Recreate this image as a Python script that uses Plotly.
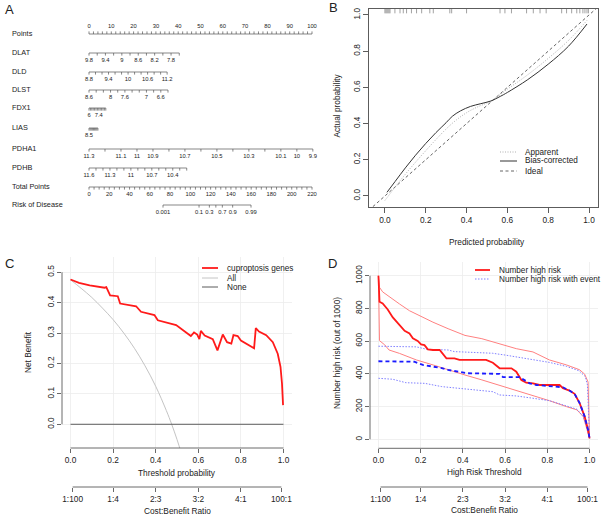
import math
import plotly.graph_objects as go

W, H = 603, 518
FONT = "Liberation Sans, Arial, Helvetica, sans-serif"
INK = "#222222"
AXC = "#444444"


def fx(px):
    return px / W


def fy(py):
    return 1 - py / H


def to_paper(v, dom, rng):
    return dom[0] + (v - rng[0]) / (rng[1] - rng[0]) * (dom[1] - dom[0])


# ======================= DATA =======================
# ---- Panel A : nomogram ----
row_names = ["Points", "DLAT", "DLD", "DLST", "FDX1", "LIAS", "PDHA1", "PDHB",
             "Total Points", "Risk of Disease"]
points_labels = [0, 10, 20, 30, 40, 50, 60, 70, 80, 90, 100]
points_minor = list(range(0, 101, 2))

var_names = ["DLAT", "DLD", "DLST", "FDX1", "LIAS", "PDHA1", "PDHB"]
var_zero_value = [9.8, 8.8, 8.6, 6.0, 8.5, 11.3, 11.6]          # value scoring 0 points
var_points_per_unit = [-18.4, 14.6, -16.1, 3.14, 5.0, -71.7, -31.3]

dlat_ticks = [9.8, 9.6, 9.4, 9.2, 9.0, 8.8, 8.6, 8.4, 8.2, 8.0, 7.8, 7.6]
dlat_labels = [9.8, 9.4, 9, 8.6, 8.2, 7.8]
dld_ticks = [8.8, 9.0, 9.2, 9.4, 9.6, 9.8, 10.0, 10.2, 10.4, 10.6, 10.8, 11.0, 11.2]
dld_labels = [8.8, 9.4, 10, 10.6, 11.2]
dlst_ticks = [8.6, 8.4, 8.2, 8.0, 7.8, 7.6, 7.4, 7.2, 7.0, 6.8, 6.6, 6.4]
dlst_labels = [8.6, 8, 7.6, 7, 6.6]
fdx1_ticks = [6.0, 6.2, 6.4, 6.6, 6.8, 7.0, 7.2, 7.4, 7.6, 7.8, 8.0, 8.2, 8.4]
fdx1_labels = [6, 7.4]
lias_ticks = [8.5, 8.6, 8.7, 8.8, 8.9, 9.0, 9.1, 9.2, 9.3]
lias_labels = [8.5]
pdha1_ticks = [11.3, 11.2, 11.1, 11.0, 10.9, 10.8, 10.7, 10.6, 10.5, 10.4, 10.3,
               10.2, 10.1, 10.0, 9.9]
pdha1_labels = [11.3, 11.1, 11, 10.9, 10.7, 10.5, 10.3, 10.1, 10, 9.9]
pdhb_ticks = [11.6, 11.5, 11.4, 11.3, 11.2, 11.1, 11.0, 10.9, 10.8, 10.7, 10.6,
              10.5, 10.4, 10.3, 10.2]
pdhb_labels = [11.6, 11.3, 11, 10.7, 10.4]
var_ticks = [dlat_ticks, dld_ticks, dlst_ticks, fdx1_ticks, lias_ticks, pdha1_ticks, pdhb_ticks]
var_labels = [dlat_labels, dld_labels, dlst_labels, fdx1_labels, lias_labels, pdha1_labels, pdhb_labels]

total_max = 220
total_labels = [0, 20, 40, 60, 80, 100, 120, 140, 160, 180, 200, 220]
total_minor = list(range(0, 221, 5))

risk_ticks = [0.001, 0.1, 0.3, 0.5, 0.7, 0.9, 0.99]
risk_labels = [0.001, 0.1, 0.3, 0.7, 0.9, 0.99]
risk_intercept_points = 73.0     # total points at risk 0.001
risk_points_per_logit = 7.55

# ---- Panel B : calibration ----
app_x = [0.0, 0.1, 0.2, 0.3, 0.35, 0.4, 0.45, 0.52, 0.6, 0.7, 0.8, 0.9, 0.99]
app_y = [-0.025, 0.12, 0.25, 0.37, 0.42, 0.46, 0.49, 0.525, 0.59, 0.67, 0.76, 0.86, 0.97]
bias_x = [0.01, 0.05, 0.1, 0.15, 0.2, 0.25, 0.3, 0.33, 0.37, 0.42, 0.47, 0.52,
          0.565, 0.6, 0.7, 0.8, 0.9, 0.99]
bias_y = [0.02, 0.08, 0.155, 0.225, 0.29, 0.35, 0.405, 0.44, 0.47, 0.495, 0.51,
          0.525, 0.55, 0.572, 0.643, 0.728, 0.828, 0.95]
ideal_x = [-0.2, 1.2]
ideal_y = [-0.2, 1.2]
rug_pred = [0.0, 0.005, 0.01, 0.015, 0.02, 0.025, 0.049, 0.074, 0.09, 0.106, 0.13,
            0.155, 0.18, 0.22, 0.237, 0.318, 0.327, 0.4, 0.564, 0.588, 0.62, 0.694,
            0.727, 0.76, 0.79, 0.866, 0.89, 0.915, 0.94, 0.955, 0.97, 0.98, 0.99, 0.997]

# ---- Panel C : decision curve ----
model_t = [0.0, 0.04, 0.09, 0.135, 0.16, 0.168, 0.186, 0.222, 0.233, 0.308, 0.331,
           0.394, 0.41, 0.496, 0.565, 0.58, 0.595, 0.605, 0.612, 0.63, 0.668, 0.69,
           0.715, 0.735, 0.755, 0.765, 0.785, 0.80, 0.84, 0.862, 0.87, 0.885, 0.919,
           0.95, 0.973, 0.986, 0.993, 0.998]
model_nb = [0.476, 0.465, 0.457, 0.453, 0.449, 0.451, 0.424, 0.421, 0.397, 0.388,
            0.37, 0.359, 0.342, 0.326, 0.29, 0.302, 0.295, 0.28, 0.307, 0.292, 0.28,
            0.243, 0.295, 0.27, 0.265, 0.293, 0.29, 0.275, 0.26, 0.25, 0.316, 0.305,
            0.293, 0.27, 0.232, 0.189, 0.134, 0.063]
all_t = [0.0, 0.05, 0.1, 0.15, 0.2, 0.25, 0.3, 0.35, 0.4, 0.45, 0.475, 0.5, 0.52]
all_nb = [0.475, 0.447, 0.417, 0.382, 0.344, 0.30, 0.25, 0.192, 0.125, 0.045, 0.0,
          -0.05, -0.094]
none_t = [0.0, 1.0]
none_nb = [0.0, 0.0]

# ---- Panel D : clinical impact curve ----
hr_t = [0.0, 0.005, 0.02, 0.044, 0.068, 0.1, 0.124, 0.147, 0.163, 0.186, 0.202,
        0.218, 0.234, 0.258, 0.29, 0.322, 0.36, 0.384, 0.51, 0.542, 0.574, 0.63,
        0.653, 0.677, 0.7, 0.732, 0.763, 0.858, 0.874, 0.905, 0.929, 0.953, 0.977,
        0.993, 1.0]
hr_n = [1000, 841, 831, 794, 745, 694, 663, 647, 617, 601, 580, 576, 550, 546, 546,
        495, 495, 485, 485, 468, 434, 434, 413, 362, 346, 342, 332, 332, 312, 298,
        278, 221, 139, 57, 6]
hr_up_t = [0.0, 0.005, 0.02, 0.05, 0.1, 0.147, 0.19, 0.258, 0.33, 0.41, 0.49, 0.574,
           0.653, 0.732, 0.81, 0.89, 0.953, 0.977, 0.993, 1.0]
hr_up_n = [1000, 929, 901, 872, 827, 786, 757, 716, 676, 635, 615, 584, 554, 534,
           485, 455, 425, 398, 350, 10]
hr_lo_t = [0.0, 0.005, 0.03, 0.05, 0.1, 0.18, 0.26, 0.33, 0.41, 0.49, 0.57, 0.65,
           0.73, 0.81, 0.89, 0.94, 0.97, 0.99, 1.0]
hr_lo_n = [1000, 603, 577, 546, 525, 485, 454, 424, 393, 363, 332, 302, 271, 236,
           200, 180, 139, 57, 6]
ev_t = [0.0, 0.1, 0.17, 0.21, 0.26, 0.3, 0.33, 0.384, 0.42, 0.574, 0.59, 0.669,
        0.716, 0.748, 0.827, 0.874, 0.905, 0.929, 0.953, 0.977, 0.993, 1.0]
ev_n = [477, 477, 474, 455, 445, 435, 424, 414, 404, 400, 380, 380, 342, 332, 322,
        318, 298, 278, 221, 139, 57, 6]
ev_up_t = [0.0, 0.18, 0.23, 0.33, 0.36, 0.49, 0.54, 0.6, 0.65, 0.73, 0.81, 0.89,
           0.95, 0.98, 0.99, 1.0]
ev_up_n = [569, 565, 550, 546, 536, 530, 526, 515, 505, 485, 470, 446, 419, 383, 332, 6]
ev_lo_t = [0.0, 0.068, 0.13, 0.22, 0.3, 0.384, 0.447, 0.542, 0.574, 0.653, 0.732,
           0.81, 0.89, 0.94, 0.97, 0.99, 1.0]
ev_lo_n = [373, 367, 346, 342, 322, 312, 306, 291, 271, 265, 251, 236, 204, 184, 139, 61, 6]

# cost:benefit axis
cb_labels = ["1:100", "1:4", "2:3", "3:2", "4:1", "100:1"]
cb_thresholds = [1 / 101, 0.2, 0.4, 0.6, 0.8, 100 / 101]

# ======================= FIGURE =======================
fig = go.Figure()
shapes = []
annots = []


def ann(x, y, text, size, xanchor="center", yanchor="middle", angle=0, color=INK):
    annots.append(dict(x=fx(x), y=fy(y), xref="paper", yref="paper", text=text,
                       showarrow=False, xanchor=xanchor, yanchor=yanchor,
                       textangle=angle, font=dict(family=FONT, size=size, color=color)))


# ---------------- Panel A ----------------
A_PX0 = 89.0
A_PXPP = 2.23
A_dom = [0.0, fx(322)]
A_rng = [(0 - A_PX0) / A_PXPP, (322 - A_PX0) / A_PXPP]
row_y = [34, 53, 72, 90, 108, 128, 149, 168, 187, 205]
TL = 2.6

lx, ly = [], []
tx, ty, tt = [], [], []


def seg(x0, y0, x1, y1):
    lx.extend([x0, x1, None])
    ly.extend([y0, y1, None])


def fmt(v):
    return "{:g}".format(v)


# Points
y0 = row_y[0]
seg(points_minor[0], y0, points_minor[-1], y0)
for p in points_minor:
    seg(p, y0, p, y0 - TL)
for p in points_labels:
    tx.append(p); ty.append(y0 - 7); tt.append(fmt(p))

# Variables
for i, name in enumerate(var_names):
    yv = row_y[i + 1]
    z, ppu = var_zero_value[i], var_points_per_unit[i]
    pts = [(v - z) * ppu for v in var_ticks[i]]
    seg(min(pts), yv, max(pts), yv)
    for p in pts:
        seg(p, yv, p, yv + TL)
    for v in var_labels[i]:
        tx.append((v - z) * ppu); ty.append(yv + 7.5); tt.append(fmt(v))

# Total points
yt = row_y[8]
seg(0, yt, total_max * 100 / total_max, yt)
for tp in total_minor:
    seg(tp * 100 / total_max, yt, tp * 100 / total_max, yt + TL)
for tp in total_labels:
    tx.append(tp * 100 / total_max); ty.append(yt + 7.5); tt.append(fmt(tp))


def risk_pts(p):
    lg = math.log(p / (1 - p)) - math.log(0.001 / 0.999)
    return (risk_intercept_points + risk_points_per_logit * lg) * 100 / total_max


yr = row_y[9]
seg(risk_pts(risk_ticks[0]), yr, risk_pts(risk_ticks[-1]), yr)
for p in risk_ticks:
    seg(risk_pts(p), yr, risk_pts(p), yr + TL)
for p in risk_labels:
    tx.append(risk_pts(p)); ty.append(yr + 8); tt.append(fmt(p))

fig.add_trace(go.Scatter(x=lx, y=ly, mode="lines", line=dict(color="#555555", width=0.7),
                         xaxis="x", yaxis="y", hoverinfo="skip", showlegend=False))
fig.add_trace(go.Scatter(x=tx, y=ty, text=tt, mode="text", textposition="middle center",
                         textfont=dict(family=FONT, size=5.8, color=INK), cliponaxis=False,
                         xaxis="x", yaxis="y", hoverinfo="skip", showlegend=False))
label_x = (12 - A_PX0) / A_PXPP
fig.add_trace(go.Scatter(x=[label_x] * len(row_names), y=[r + 0.5 for r in row_y],
                         text=row_names, mode="text", textposition="middle right",
                         textfont=dict(family=FONT, size=7.3, color=INK), cliponaxis=False,
                         xaxis="x", yaxis="y", hoverinfo="skip", showlegend=False))

# ---------------- Panel B ----------------
B_xdom, B_xrng = [fx(369), fx(598)], [-0.078, 1.044]
B_ydom, B_yrng = [fy(207), fy(9)], [-0.061, 1.033]
rx, ry = [], []
for v in rug_pred:
    rx.extend([v, v, None])
    ry.extend([B_yrng[1], B_yrng[1] - 0.024, None])
fig.add_trace(go.Scatter(x=rx, y=ry, mode="lines", line=dict(color="#8a8a8a", width=0.8),
                         xaxis="x2", yaxis="y2", hoverinfo="skip", showlegend=False))
fig.add_trace(go.Scatter(x=ideal_x, y=ideal_y, mode="lines",
                         line=dict(color="#555555", width=0.9, dash="3px,2.5px"),
                         xaxis="x2", yaxis="y2", showlegend=False))
fig.add_trace(go.Scatter(x=app_x, y=app_y, mode="lines", line_shape="spline",
                         line=dict(color="#a8a8a8", width=0.9, dash="1px,1.5px"),
                         xaxis="x2", yaxis="y2", showlegend=False))
fig.add_trace(go.Scatter(x=bias_x, y=bias_y, mode="lines", line_shape="spline",
                         line=dict(color="#333333", width=1.0),
                         xaxis="x2", yaxis="y2", showlegend=False))

# legend B
leg_b = [("Apparent", dict(color="#a8a8a8", width=0.9, dash="1px,1.5px"), 152),
         ("Bias-corrected", dict(color="#333333", width=1.0, dash="solid"), 161),
         ("Ideal", dict(color="#555555", width=0.9, dash="3px,2.5px"), 171)]
for text, ln, yy in leg_b:
    shapes.append(dict(type="line", xref="paper", yref="paper", x0=fx(500), x1=fx(517),
                       y0=fy(yy), y1=fy(yy), line=ln))
    ann(523, yy, text, 8.2, xanchor="left")

# ---------------- Panel C ----------------
C_xdom, C_xrng = [fx(62), fx(292)], [-0.04, 1.04]
C_ydom, C_yrng = [fy(448), fy(257)], [-0.078, 0.55]
fig.add_trace(go.Scatter(x=all_t, y=all_nb, mode="lines", line_shape="spline",
                         line=dict(color="#c4c4c4", width=1.0),
                         xaxis="x3", yaxis="y3", showlegend=False))
fig.add_trace(go.Scatter(x=none_t, y=none_nb, mode="lines",
                         line=dict(color="#5a5a5a", width=1.0),
                         xaxis="x3", yaxis="y3", showlegend=False))
fig.add_trace(go.Scatter(x=model_t, y=model_nb, mode="lines",
                         line=dict(color="#ff1a1a", width=1.8),
                         xaxis="x3", yaxis="y3", showlegend=False))
leg_c = [("cuproptosis genes", dict(color="#ff1a1a", width=1.8), 268),
         ("All", dict(color="#c4c4c4", width=1.0), 278),
         ("None", dict(color="#5a5a5a", width=1.0), 287)]
for text, ln, yy in leg_c:
    shapes.append(dict(type="line", xref="paper", yref="paper", x0=fx(202), x1=fx(218),
                       y0=fy(yy), y1=fy(yy), line=ln))
    ann(225, yy, text, 8.2, xanchor="left")

# ---------------- Panel D ----------------
D_xdom, D_xrng = [fx(370), fx(598)], [-0.04, 1.04]
D_ydom, D_yrng = [fy(448.3), fy(261.8)], [-55, 1085]
light_red = "#ff8080"
light_blue = "#8080ff"
for xs, ys in [(hr_up_t, hr_up_n), (hr_lo_t, hr_lo_n)]:
    fig.add_trace(go.Scatter(x=xs, y=ys, mode="lines", line=dict(color=light_red, width=1.0),
                             xaxis="x4", yaxis="y4", showlegend=False))
for xs, ys in [(ev_up_t, ev_up_n), (ev_lo_t, ev_lo_n)]:
    fig.add_trace(go.Scatter(x=xs, y=ys, mode="lines",
                             line=dict(color=light_blue, width=1.0, dash="1.5px,1.5px"),
                             xaxis="x4", yaxis="y4", showlegend=False))
fig.add_trace(go.Scatter(x=hr_t, y=hr_n, mode="lines", line=dict(color="#ff1a1a", width=1.8),
                         xaxis="x4", yaxis="y4", showlegend=False))
fig.add_trace(go.Scatter(x=ev_t, y=ev_n, mode="lines",
                         line=dict(color="#1a1aff", width=1.8, dash="4px,3px"),
                         xaxis="x4", yaxis="y4", showlegend=False))
leg_d = [("Number high risk", dict(color="#ff1a1a", width=1.8), 270),
         ("Number high risk with event", dict(color=light_blue, width=1.0, dash="1.5px,1.5px"), 279)]
for text, ln, yy in leg_d:
    shapes.append(dict(type="line", xref="paper", yref="paper", x0=fx(475), x1=fx(490),
                       y0=fy(yy), y1=fy(yy), line=ln))
    ann(497, yy, text, 8.2, xanchor="left")

# dummy traces for cost:benefit axes
for xa, ya in [("x5", "y5"), ("x6", "y6")]:
    fig.add_trace(go.Scatter(x=[0.5], y=[0.5], mode="markers", marker=dict(opacity=0),
                             xaxis=xa, yaxis=ya, hoverinfo="skip", showlegend=False))

# R-style axis lines (span first tick to last tick)
C_axis_x = to_paper(0.0, C_xdom, C_xrng), to_paper(1.0, C_xdom, C_xrng)
shapes.append(dict(type="line", xref="paper", yref="paper", x0=C_axis_x[0], x1=C_axis_x[1],
                   y0=C_ydom[0], y1=C_ydom[0], line=dict(color=AXC, width=0.8)))
shapes.append(dict(type="line", xref="paper", yref="paper", x0=C_xdom[0], x1=C_xdom[0],
                   y0=to_paper(0.0, C_ydom, C_yrng), y1=to_paper(0.5, C_ydom, C_yrng),
                   line=dict(color=AXC, width=0.8)))
shapes.append(dict(type="line", xref="paper", yref="paper",
                   x0=to_paper(0.0, D_xdom, D_xrng), x1=to_paper(1.0, D_xdom, D_xrng),
                   y0=D_ydom[0], y1=D_ydom[0], line=dict(color=AXC, width=0.8)))
shapes.append(dict(type="line", xref="paper", yref="paper", x0=D_xdom[0], x1=D_xdom[0],
                   y0=to_paper(0, D_ydom, D_yrng), y1=to_paper(1000, D_ydom, D_yrng),
                   line=dict(color=AXC, width=0.8)))
CB_y = 487
for dom, rng in [(C_xdom, C_xrng), (D_xdom, D_xrng)]:
    shapes.append(dict(type="line", xref="paper", yref="paper",
                       x0=to_paper(cb_thresholds[0], dom, rng),
                       x1=to_paper(cb_thresholds[-1], dom, rng),
                       y0=fy(CB_y), y1=fy(CB_y), line=dict(color=AXC, width=0.8)))

# ---------------- Axes ----------------
tickfont = dict(family=FONT, size=8.3, color=INK)
dec1 = ["0.0", "0.2", "0.4", "0.6", "0.8", "1.0"]
common_r = dict(ticks="outside", ticklen=4, tickwidth=0.8, tickcolor=AXC, zeroline=False,
                tickfont=tickfont, showline=False)
grid = dict(showgrid=True, gridcolor="#ececec", gridwidth=0.8)

layout_axes = dict(
    xaxis=dict(domain=A_dom, range=A_rng, visible=False, anchor="y"),
    yaxis=dict(domain=[fy(230), 1.0], range=[230, 0], visible=False, anchor="x"),
    xaxis2=dict(domain=B_xdom, range=B_xrng, anchor="y2", showline=True, mirror=True,
                linecolor="#333333", linewidth=0.8, ticks="outside", ticklen=5,
                tickwidth=0.8, tickcolor="#333333", tickvals=[0, 0.2, 0.4, 0.6, 0.8, 1.0],
                ticktext=dec1, showgrid=False, zeroline=False, tickfont=tickfont),
    yaxis2=dict(domain=B_ydom, range=B_yrng, anchor="x2", showline=True, mirror=True,
                linecolor="#333333", linewidth=0.8, ticks="outside", ticklen=5,
                tickwidth=0.8, tickcolor="#333333", tickvals=[0, 0.2, 0.4, 0.6, 0.8, 1.0],
                ticktext=dec1, tickangle=-90, showgrid=False, zeroline=False,
                tickfont=tickfont),
    xaxis3=dict(domain=C_xdom, range=C_xrng, anchor="y3", tickvals=[0, 0.2, 0.4, 0.6, 0.8, 1.0],
                ticktext=dec1, **common_r, **grid),
    yaxis3=dict(domain=C_ydom, range=C_yrng, anchor="x3",
                tickvals=[0, 0.1, 0.2, 0.3, 0.4, 0.5],
                ticktext=["0.0", "0.1", "0.2", "0.3", "0.4", "0.5"], tickangle=-90,
                **common_r, **grid),
    xaxis4=dict(domain=D_xdom, range=D_xrng, anchor="y4", tickvals=[0, 0.2, 0.4, 0.6, 0.8, 1.0],
                ticktext=dec1, **common_r, **grid),
    yaxis4=dict(domain=D_ydom, range=D_yrng, anchor="x4",
                tickvals=[0, 200, 400, 600, 800, 1000], tickangle=-90, **common_r, **grid),
    xaxis5=dict(domain=C_xdom, range=C_xrng, anchor="y5", tickvals=cb_thresholds,
                ticktext=cb_labels, showgrid=False, **common_r),
    yaxis5=dict(domain=[fy(CB_y), fy(CB_y - 6)], range=[0, 1], anchor="x5", visible=False),
    xaxis6=dict(domain=D_xdom, range=D_xrng, anchor="y6", tickvals=cb_thresholds,
                ticktext=cb_labels, showgrid=False, **common_r),
    yaxis6=dict(domain=[fy(CB_y), fy(CB_y - 6)], range=[0, 1], anchor="x6", visible=False),
)

# ---------------- Titles / panel letters ----------------
ann(9, 10, "A", 13)
ann(333, 8, "B", 13)
ann(9, 263, "C", 13)
ann(332, 263, "D", 13)
ann(to_paper(0.5, B_xdom, B_xrng) * W, 242, "Predicted probability", 8.3)
ann(337, (1 - to_paper(0.5, B_ydom, B_yrng)) * H, "Actual probability", 8.3, angle=-90)
ann(to_paper(0.5, C_xdom, C_xrng) * W, 473, "Threshold probability", 8.3)
ann(to_paper(0.5, C_xdom, C_xrng) * W, 511, "Cost:Benefit Ratio", 8.3)
ann(28, 352, "Net Benefit", 8.3, angle=-90)
ann(to_paper(0.5, D_xdom, D_xrng) * W, 472, "High Risk Threshold", 8.3)
ann(to_paper(0.5, D_xdom, D_xrng) * W, 510, "Cost:Benefit Ratio", 8.3)
ann(337, 353, "Number high risk (out of 1000)", 8.3, angle=-90)

fig.update_layout(
    width=W, height=H, margin=dict(l=0, r=0, t=0, b=0),
    paper_bgcolor="white", plot_bgcolor="white", showlegend=False,
    font=dict(family=FONT, color=INK), shapes=shapes, annotations=annots,
    **layout_axes,
)

fig.write_html("out.html", config={"displayModeBar": False, "staticPlot": True},
               post_script="document.body.style.margin='0';document.body.style.overflow='hidden';")
